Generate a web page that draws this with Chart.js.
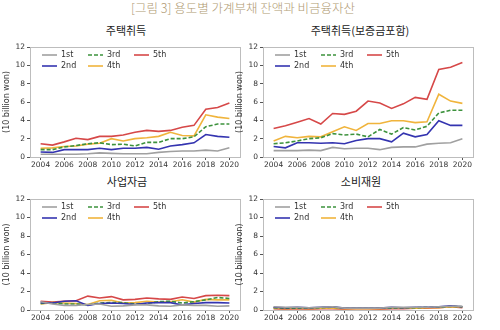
<!DOCTYPE html>
<html><head><meta charset="utf-8">
<script src="https://cdn.jsdelivr.net/npm/chart.js@4.4.1/dist/chart.umd.min.js"></script>
<style>
html,body{margin:0;padding:0;background:#fff;width:500px;height:330px;overflow:hidden;position:relative;font-family:"Noto Sans CJK KR",sans-serif;}
.t{position:absolute;white-space:nowrap;transform:translateX(-50%);line-height:1;}
.main{color:#b09a72;font-size:12.5px;top:2px;left:243px;font-weight:300;}
.sub{color:#222;font-size:11px;}
.box{position:absolute;}
</style></head><body>
<div class="t main">[그림 3] 용도별 가계부채 잔액과 비금융자산</div>
<div class="t sub" style="left:126px;top:25px">주택취득</div>
<div class="t sub" style="left:360px;top:25px">주택취득(보증금포함)</div>
<div class="t sub" style="left:127px;top:176px">사업자금</div>
<div class="t sub" style="left:361px;top:176px">소비재원</div>
<div class="box" style="left:0;top:38px;width:250px;height:134px"><canvas id="c1"></canvas></div>
<div class="box" style="left:233px;top:38px;width:250px;height:134px"><canvas id="c2"></canvas></div>
<div class="box" style="left:0;top:190px;width:250px;height:135px"><canvas id="c3"></canvas></div>
<div class="box" style="left:233px;top:190px;width:250px;height:135px"><canvas id="c4"></canvas></div>
<script>
const years = [2004,2005,2006,2007,2008,2009,2010,2011,2012,2013,2014,2015,2016,2017,2018,2019,2020];
const seriesNames = ["1st","2nd","3rd","4th","5th"];
const yTicks = [0,2,4,6,8,10,12];
const yLabel = "(10 billion won)";

// 주택취득
const house1 = [0.3,0.3,0.3,0.3,0.35,0.45,0.4,0.35,0.35,0.35,0.5,0.6,0.65,0.65,0.75,0.65,1.0];
const house2 = [0.55,0.5,0.8,0.8,0.8,0.95,0.8,0.95,0.95,1.05,0.85,1.2,1.35,1.55,2.45,2.25,2.15];
const house3 = [0.8,0.8,1.1,1.25,1.45,1.55,1.35,1.4,1.2,1.6,1.6,2.0,2.0,2.2,3.3,3.6,3.6];
const house4 = [0.95,1.0,1.15,1.2,1.4,1.5,2.0,1.75,2.0,2.1,2.25,2.7,2.35,2.3,4.6,4.35,4.2];
const house5 = [1.45,1.3,1.65,2.05,1.9,2.25,2.25,2.4,2.7,2.9,2.8,2.9,3.25,3.45,5.2,5.4,5.9];

// 주택취득(보증금포함)
const dep1 = [0.7,0.7,0.7,0.75,0.7,1.05,0.9,0.95,0.95,0.8,1.05,1.1,1.1,1.4,1.5,1.55,2.0];
const dep2 = [1.15,1.0,1.55,1.55,1.5,1.55,1.45,1.8,2.0,2.0,1.65,2.6,2.2,2.45,3.95,3.45,3.45];
const dep3 = [1.45,1.55,1.75,2.0,2.1,2.55,2.4,2.5,2.2,3.0,2.5,3.2,2.95,3.35,4.8,5.1,5.1];
const dep4 = [1.75,2.25,2.1,2.25,2.2,2.75,3.3,2.9,3.65,3.65,3.95,3.95,3.75,3.85,6.85,6.1,5.85];
const dep5 = [3.1,3.4,3.8,4.2,3.6,4.75,4.65,5.0,6.1,5.9,5.3,5.8,6.5,6.3,9.55,9.8,10.3];

// 사업자금
const biz1 = [0.9,0.65,0.5,0.5,0.6,0.65,0.4,0.45,0.55,0.55,0.45,0.4,0.55,0.5,0.5,0.4,0.45];
const biz2 = [0.8,0.75,0.95,1.0,0.5,0.7,0.75,0.7,0.6,0.75,0.8,0.8,0.55,0.7,0.8,0.8,0.75];
const biz3 = [0.7,0.8,0.65,0.65,0.55,0.75,0.8,0.8,0.65,0.7,0.9,0.95,0.75,0.9,1.1,1.35,1.25];
const biz4 = [0.65,0.8,0.75,0.7,0.6,1.0,1.05,0.75,0.8,0.95,0.85,0.9,1.1,0.85,1.15,1.1,1.1];
const biz5 = [0.95,0.85,0.95,1.0,1.5,1.3,1.45,1.1,1.15,1.3,1.2,1.15,1.4,1.25,1.55,1.6,1.55];

// 소비재원
const con1 = [0.35,0.3,0.3,0.25,0.3,0.35,0.2,0.2,0.2,0.2,0.3,0.3,0.3,0.3,0.35,0.4,0.4];
const con2 = [0.3,0.25,0.3,0.25,0.3,0.35,0.2,0.2,0.2,0.2,0.3,0.25,0.3,0.3,0.35,0.45,0.35];
const con3 = [0.25,0.2,0.2,0.2,0.25,0.3,0.2,0.2,0.2,0.2,0.2,0.25,0.25,0.3,0.3,0.4,0.35];
const con4 = [0.2,0.15,0.2,0.15,0.2,0.2,0.15,0.15,0.15,0.15,0.2,0.2,0.2,0.25,0.25,0.35,0.3];
const con5 = [0.15,0.1,0.15,0.1,0.15,0.15,0.1,0.15,0.15,0.1,0.15,0.15,0.2,0.2,0.25,0.35,0.25];

const styles = [
  {color:"#a0a0a0", dash:[]},
  {color:"#3434b0", dash:[]},
  {color:"#3d923d", dash:[4,2]},
  {color:"#f0b43c", dash:[]},
  {color:"#d64848", dash:[]}
];

const framePlugin = {
  id:"frame",
  afterDraw(chart){
    const a = chart.chartArea, ctx = chart.ctx;
    ctx.save();
    ctx.strokeStyle = "#bdbdbd"; ctx.lineWidth = 1;
    ctx.strokeRect(Math.round(a.left)+0.5, Math.round(a.top)+0.5, Math.round(a.right-a.left), Math.round(a.bottom-a.top));
    ctx.font = "8px 'DejaVu Sans'";
    ctx.textBaseline = "middle";
    chart.data.datasets.forEach((ds,i)=>{
      const col = Math.floor(i/2), row = i%2;
      const x0 = a.left + 12 + col*46, y = a.top + 8 + row*11;
      ctx.strokeStyle = ds.borderColor; ctx.lineWidth = 1.6;
      ctx.setLineDash(ds.borderDash||[]);
      ctx.beginPath(); ctx.moveTo(x0,y); ctx.lineTo(x0+15,y); ctx.stroke();
      ctx.setLineDash([]);
      ctx.fillStyle = "#333";
      ctx.fillText(ds.label, x0+19, y);
    });
    ctx.restore();
  }
};

function makeChart(id, series){
  const datasets = series.map((vals,i)=>({
    label: seriesNames[i],
    data: years.map((yr,k)=>({x:yr, y:vals[k]})),
    borderColor: styles[i].color,
    borderDash: styles[i].dash,
    borderWidth: 1.6,
    pointRadius: 0,
    tension: 0,
    fill:false
  }));
  return new Chart(document.getElementById(id), {
    type:"line",
    data:{datasets},
    options:{
      responsive:true, maintainAspectRatio:false, animation:false,
      layout:{padding:{top:9,right:10,left:0,bottom:0}},
      plugins:{legend:{display:false}, tooltip:{enabled:false}},
      scales:{
        x:{type:"linear", min:2003.1, max:2020.9,
          afterBuildTicks(s){ s.ticks = years.filter(y=>y%2===0).map(v=>({value:v})); },
          afterFit(s){ s.height = 15; },
          ticks:{font:{size:7.5,family:"DejaVu Sans"}, color:"#333", padding:1, maxRotation:0,
            callback:v=>String(v)},
          grid:{display:true, drawOnChartArea:false, tickLength:3, color:"#555"},
          border:{display:false}
        },
        y:{min:0, max:12,
          afterBuildTicks(s){ s.ticks = yTicks.map(v=>({value:v})); },
          afterFit(s){ s.width = 30; },
          ticks:{font:{size:7.5,family:"DejaVu Sans"}, color:"#333", padding:2},
          grid:{display:true, drawOnChartArea:false, tickLength:3, color:"#555"},
          border:{display:false},
          title:{display:true, text:yLabel, font:{size:8,family:"DejaVu Sans"}, color:"#333", padding:{top:2,bottom:0}}
        }
      }
    },
    plugins:[framePlugin]
  });
}

makeChart("c1", [house1,house2,house3,house4,house5]);
makeChart("c2", [dep1,dep2,dep3,dep4,dep5]);
makeChart("c3", [biz1,biz2,biz3,biz4,biz5]);
makeChart("c4", [con1,con2,con3,con4,con5]);
</script>
</body></html>
